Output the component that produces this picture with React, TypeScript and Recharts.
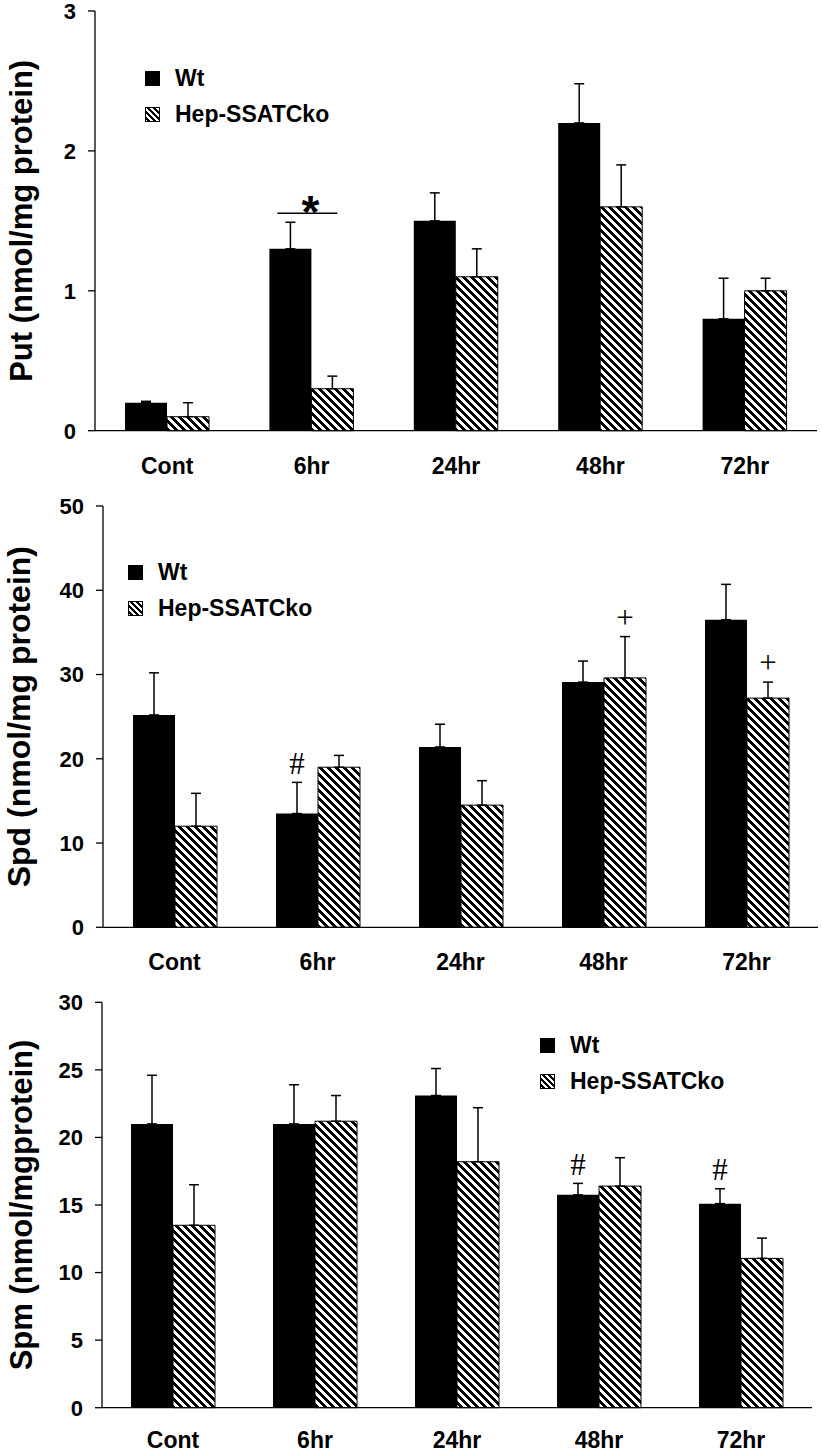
import React from 'react';
import { BarChart, Bar, XAxis, YAxis, ErrorBar, Legend, LabelList } from 'recharts';

// categories + series names
const categories = ['Cont', '6hr', '24hr', '48hr', '72hr'];
const seriesNames = ['Wt', 'Hep-SSATCko'];

// Put panel
const putWt = [0.2, 1.3, 1.5, 2.2, 0.8];
const putWtErr = [0.01, 0.19, 0.2, 0.28, 0.29];
const putKo = [0.1, 0.3, 1.1, 1.6, 1.0];
const putKoErr = [0.1, 0.09, 0.2, 0.3, 0.09];
const putWtMark = ['', '*', '', '', ''];
const putKoMark = ['', '', '', '', ''];
const putTicks = [0, 1, 2, 3];

// Spd panel
const spdWt = [25.2, 13.5, 21.4, 29.1, 36.5];
const spdWtErr = [5.0, 3.7, 2.7, 2.5, 4.2];
const spdKo = [12.0, 19.0, 14.5, 29.6, 27.2];
const spdKoErr = [3.9, 1.4, 2.9, 4.9, 1.9];
const spdWtMark = ['', '#', '', '', ''];
const spdKoMark = ['', '', '', '+', '+'];
const spdTicks = [0, 10, 20, 30, 40, 50];

// Spm panel
const spmWt = [21.0, 21.0, 23.1, 15.75, 15.1];
const spmWtErr = [3.6, 2.9, 2.0, 0.85, 1.1];
const spmKo = [13.5, 21.2, 18.2, 16.4, 11.05];
const spmKoErr = [3.0, 1.9, 4.0, 2.1, 1.5];
const spmWtMark = ['', '', '', '#', '#'];
const spmKoMark = ['', '', '', '', ''];
const spmTicks = [0, 5, 10, 15, 20, 25, 30];

const FONT = '"Liberation Sans", Arial, sans-serif';
const SERIF = '"Liberation Serif", "Times New Roman", serif';

const buildRows = (wt: number[], wtErr: number[], ko: number[], koErr: number[], wtMark: string[], koMark: string[]) =>
  categories.map((name, i) => ({
    name,
    wt: wt[i],
    wtErr: [0, wtErr[i]],
    ko: ko[i],
    koErr: [0, koErr[i]],
    wtMark: wtMark[i],
    koMark: koMark[i],
  }));

// draws the significance marks above the error bar top
const markRenderer = (vals: number[], errs: number[]) => (props: any) => {
  const { x, y, width, height, value, index } = props;
  if (!value) return null;
  const v = vals[index];
  const errTop = y - (errs[index] * height) / v;
  if (value === '*') {
    const gx = x + width;
    return (
      <g>
        <line x1={gx - 34} x2={gx + 26} y1={errTop - 9} y2={errTop - 9} stroke="#000" strokeWidth={1.5} />
        <text x={gx - 1} y={errTop + 6} textAnchor="middle" fontFamily={FONT} fontWeight="bold" fontSize={46} fill="#000">*</text>
      </g>
    );
  }
  return (
    <text x={x + width / 2} y={errTop - 19} dy="0.33em" textAnchor="middle" fontFamily={SERIF} fontSize={31} fill="#000">
      {value}
    </text>
  );
};

const LegendBox = ({ id }: { id: string }) => (
  <div style={{ fontFamily: FONT, fontWeight: 'bold', fontSize: 23, color: '#000' }}>
    {seriesNames.map((n, i) => (
      <div key={n} style={{ display: 'flex', alignItems: 'center', height: 36.5 }}>
        <svg width={15} height={15} style={{ marginRight: 15, display: 'block' }}>
          <defs>
            <pattern id={`${id}-icon`} patternUnits="userSpaceOnUse" width={6} height={6}>
              <rect width={6} height={6} fill="#fff" />
              <path d="M0,0 L3,0 L6,3 L6,6 Z M0,3 L3,6 L0,6 Z" fill="#000" shapeRendering="crispEdges" />
            </pattern>
          </defs>
          <rect x={0.5} y={0.5} width={14} height={14} fill={i === 0 ? '#000' : `url(#${id}-icon)`} stroke="#000" />
        </svg>
        <span>{n}</span>
      </div>
    ))}
  </div>
);

interface PanelProps {
  id: string;
  top: number;
  height: number;
  margin: { top: number; right: number; bottom: number; left: number };
  yWidth: number;
  xTickMargin: number;
  ticks: number[];
  title: string;
  titleX: number;
  titleSize: number;
  legendPos: { left: number; top: number };
  wt: number[]; wtErr: number[]; ko: number[]; koErr: number[];
  wtMark: string[]; koMark: string[];
}

const Panel = (p: PanelProps) => {
  const data = buildRows(p.wt, p.wtErr, p.ko, p.koErr, p.wtMark, p.koMark);
  const max = p.ticks[p.ticks.length - 1];
  return (
    <div style={{ position: 'absolute', left: 0, top: p.top }}>
      <BarChart width={822} height={p.height} data={data} margin={p.margin} barGap={0} barSize={42}>
        <defs>
          <pattern id={`${p.id}-hatch`} patternUnits="userSpaceOnUse" width={8} height={8}>
            <rect width={8} height={8} fill="#fff" />
            <path d="M0,0 L4,0 L8,4 L8,8 Z M0,4 L4,8 L0,8 Z" fill="#000" shapeRendering="crispEdges" />
          </pattern>
        </defs>
        <XAxis
          dataKey="name"
          height={40}
          tickLine={false}
          tickSize={0}
          tickMargin={p.xTickMargin}
          axisLine={{ stroke: '#000', strokeWidth: 1.3 }}
          tick={{ fill: '#000', fontSize: 23, fontWeight: 'bold', fontFamily: FONT }}
        />
        <YAxis
          width={p.yWidth}
          domain={[0, max]}
          ticks={p.ticks}
          interval={0}
          tickSize={7}
          tickMargin={12}
          axisLine={{ stroke: '#000', strokeWidth: 1.3 }}
          tickLine={{ stroke: '#000', strokeWidth: 1.3 }}
          tick={{ fill: '#000', fontSize: 22, fontWeight: 'bold', fontFamily: FONT }}
          label={{
            content: (lp: any) => {
              const vb = lp.viewBox;
              const cy = vb.y + vb.height / 2;
              return (
                <text
                  x={p.titleX}
                  y={cy}
                  transform={`rotate(-90 ${p.titleX} ${cy})`}
                  textAnchor="middle"
                  dominantBaseline="central"
                  fontFamily={FONT}
                  fontWeight="bold"
                  fontSize={p.titleSize}
                  fill="#000"
                >
                  {p.title}
                </text>
              );
            },
          }}
        />
        <Legend
          layout="vertical"
          align="center"
          verticalAlign="middle"
          wrapperStyle={{ left: p.legendPos.left, top: p.legendPos.top, width: 'auto' }}
          content={() => <LegendBox id={p.id} />}
        />
        <Bar dataKey="wt" name={seriesNames[0]} fill="#000" isAnimationActive={false}>
          <ErrorBar dataKey="wtErr" width={5} stroke="#000" strokeWidth={1.5} direction="y" />
          <LabelList dataKey="wtMark" content={markRenderer(p.wt, p.wtErr)} />
        </Bar>
        <Bar dataKey="ko" name={seriesNames[1]} fill={`url(#${p.id}-hatch)`} stroke="#000" strokeWidth={1} isAnimationActive={false}>
          <ErrorBar dataKey="koErr" width={5} stroke="#000" strokeWidth={1.5} direction="y" />
          <LabelList dataKey="koMark" content={markRenderer(p.ko, p.koErr)} />
        </Bar>
      </BarChart>
    </div>
  );
};

export default function App() {
  return (
    <div style={{ position: 'absolute', left: 0, top: 0, width: 822, height: 1452, background: '#fff', overflow: 'hidden' }}>
      <Panel
        id="put" top={0} height={490}
        margin={{ top: 11, right: 5, bottom: 19.3, left: 0 }}
        yWidth={95} xTickMargin={27} ticks={putTicks}
        title="Put (nmol/mg protein)" titleX={22} titleSize={31}
        legendPos={{ left: 145, top: 60 }}
        wt={putWt} wtErr={putWtErr} ko={putKo} koErr={putKoErr} wtMark={putWtMark} koMark={putKoMark}
      />
      <Panel
        id="spd" top={490} height={490}
        margin={{ top: 16, right: 4, bottom: 12.7, left: 0 }}
        yWidth={103} xTickMargin={26} ticks={spdTicks}
        title="Spd (nmol/mg protein)" titleX={19} titleSize={32}
        legendPos={{ left: 128, top: 64 }}
        wt={spdWt} wtErr={spdWtErr} ko={spdKo} koErr={spdKoErr} wtMark={spdWtMark} koMark={spdKoMark}
      />
      <Panel
        id="spm" top={980} height={472}
        margin={{ top: 22.3, right: 10, bottom: 4.3, left: 0 }}
        yWidth={102} xTickMargin={24} ticks={spmTicks}
        title="Spm (nmol/mgprotein)" titleX={21} titleSize={31}
        legendPos={{ left: 540, top: 47 }}
        wt={spmWt} wtErr={spmWtErr} ko={spmKo} koErr={spmKoErr} wtMark={spmWtMark} koMark={spmKoMark}
      />
    </div>
  );
}
